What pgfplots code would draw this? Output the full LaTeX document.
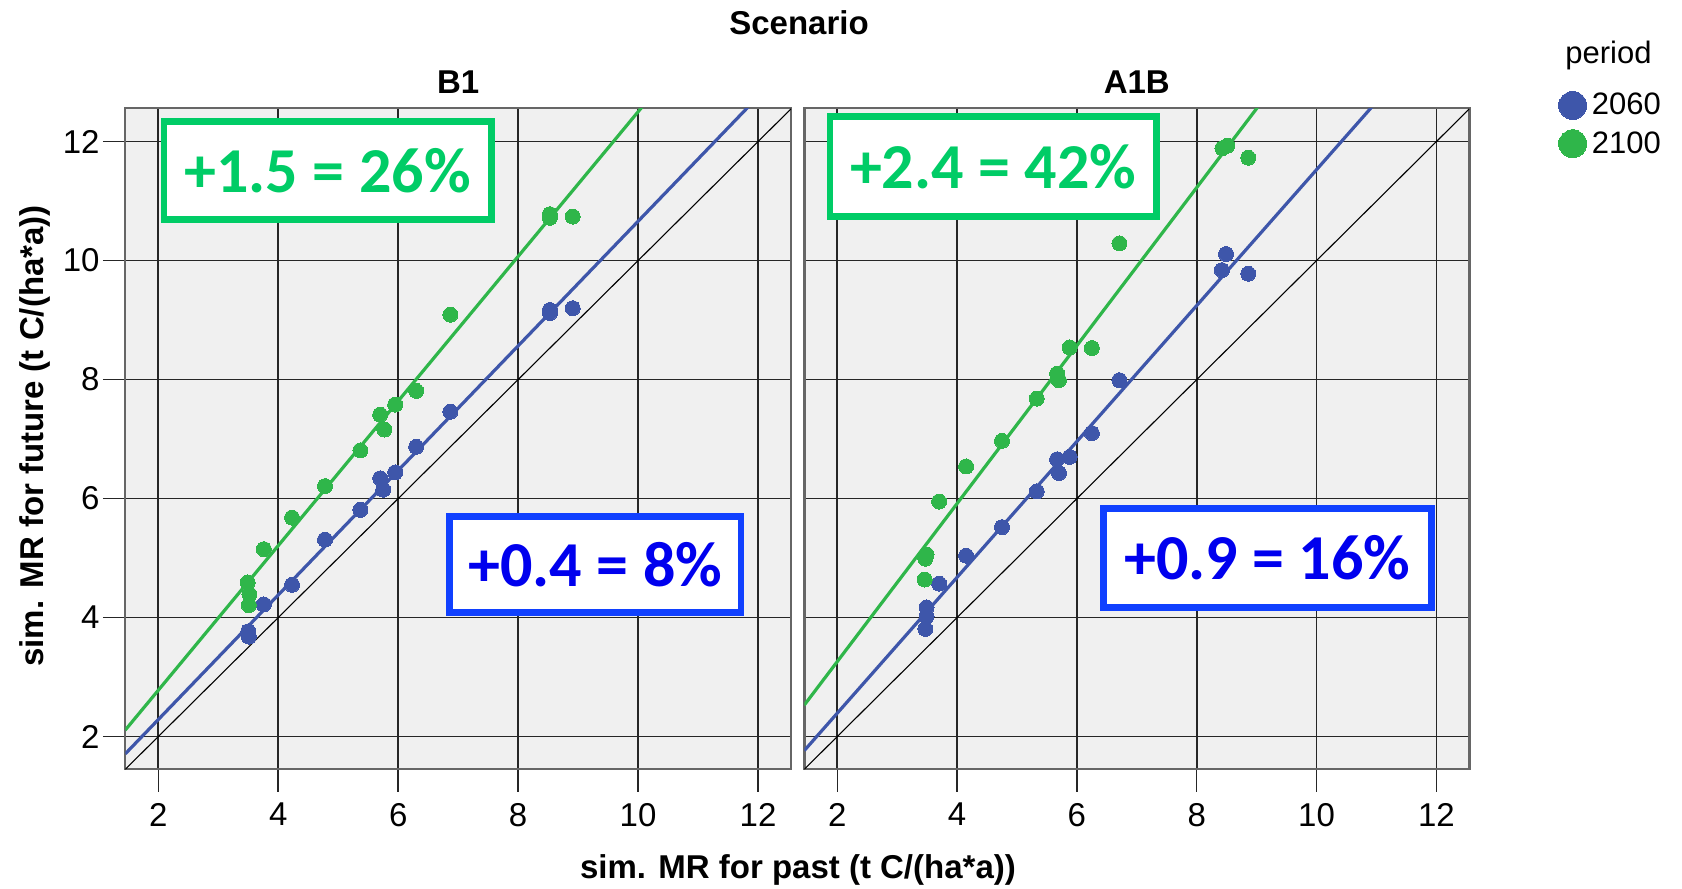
\documentclass[border=0pt]{standalone}
\usepackage{fontspec}
\setmainfont{Liberation Sans}
\newfontfamily\calib{Carlito}
\usepackage{pgfplots}
\usepackage{pgfplotstable}
\pgfplotsset{compat=1.18}
\definecolor{cblue}{RGB}{62,86,170}
\definecolor{cgreen}{RGB}{47,182,74}
\definecolor{tgreen}{RGB}{0,204,102}
\definecolor{tblue}{RGB}{0,0,238}
\definecolor{bblue}{RGB}{16,64,255}
\definecolor{panelbg}{RGB}{240,240,240}

\pgfplotstableread{
x y
3.50 3.77
3.51 3.68
3.50 3.74
3.76 4.22
4.23 4.55
4.78 5.31
5.37 5.81
5.70 6.34
5.75 6.15
5.95 6.44
6.30 6.87
6.87 7.46
8.53 9.17
8.53 9.12
8.91 9.20
}\BoneA
\pgfplotstableread{
x y
3.49 4.59
3.52 4.39
3.51 4.21
3.76 5.15
4.23 5.68
4.78 6.21
5.37 6.81
5.70 7.41
5.77 7.16
5.95 7.58
6.30 7.81
6.87 9.09
8.53 10.78
8.53 10.72
8.91 10.74
}\BoneB
\pgfplotstableread{
x y
3.47 3.81
3.49 4.02
3.49 4.17
3.70 4.57
4.15 5.04
4.75 5.52
5.33 6.12
5.67 6.66
5.70 6.43
5.88 6.70
6.25 7.10
6.71 7.99
8.42 9.84
8.49 10.11
8.86 9.78
}\AoneA
\pgfplotstableread{
x y
3.46 4.64
3.47 4.99
3.49 5.06
3.70 5.95
4.15 6.54
4.75 6.97
5.33 7.68
5.67 8.10
5.70 7.99
5.88 8.54
6.25 8.53
6.71 10.29
8.43 11.89
8.51 11.93
8.86 11.73
}\AoneB

\pgfplotsset{
  panel/.style={
    scale only axis, width=332.85pt, height=330.5pt, anchor=south west,
    xmin=1.45, xmax=12.55, ymin=1.45, ymax=12.56,
    xtick={2,4,...,12}, ytick={2,4,...,12},
    grid=major, major grid style={black!85, line width=0.85pt},
    axis background/.style={fill=panelbg},
    axis line style={black!60, line width=1.2pt},
    tick align=outside, major tick length=11.2pt,
    tick style={black!85, line width=0.75pt},
    xtick pos=bottom, ytick pos=left,
    /pgf/number format/assume math mode=true,
    tick label style={font=\fontsize{16.5}{20}\selectfont},
    xticklabel style={inner sep=5.5pt},
    yticklabel style={inner sep=1.5pt},
  },
  dots/.style={only marks, mark=*, mark size=3.75pt, mark options={fill=#1, draw=#1, line width=0pt}},
  dotlegend/.style={legend image code/.code={\draw[##1] plot coordinates {(0pt,0pt)};}},
}

\begin{document}
\begin{tikzpicture}
\useasboundingbox (0pt,0pt) rectangle (841pt,444.5pt);

\begin{axis}[panel, at={(62.65pt,59.85pt)}]
  \addplot[black, line width=0.55pt] coordinates {(1.45,1.45) (12.55,12.55)};
  \addplot[cblue, line width=1.6pt] coordinates {(1.45,1.71) (12.55,13.33)};
  \addplot[cgreen, line width=1.6pt] coordinates {(1.45,2.11) (12.55,15.60)};
  \addplot[dots=cblue] table[x=x,y=y] {\BoneA};
  \addplot[dots=cgreen] table[x=x,y=y] {\BoneB};
\end{axis}

\begin{axis}[panel, at={(402.15pt,59.85pt)}, width=332.5pt,
    yticklabels={}, ytick style={draw=none},
    legend style={at={(axis description cs:1.1344,1.0255)}, anchor=north west,
      draw=none, fill=none, inner sep=0pt, outer sep=0pt,
      row sep=5.15pt, column sep=2.6pt,
      font=\fontsize{15.5}{18}\selectfont,
      nodes={inner sep=0pt}},
    legend cell align=left]
  \addplot[black, line width=0.55pt, forget plot] coordinates {(1.45,1.45) (12.55,12.55)};
  \addplot[cblue, line width=1.6pt, forget plot] coordinates {(1.45,1.765) (12.55,14.44)};
  \addplot[cgreen, line width=1.6pt, forget plot] coordinates {(1.45,2.53) (12.55,17.27)};
  \addplot[dots=cblue, forget plot] table[x=x,y=y] {\AoneA};
  \addplot[dots=cgreen, forget plot] table[x=x,y=y] {\AoneB};
  \addlegendimage{only marks, mark=*, mark size=7pt, mark options={fill=cblue, draw=cblue, line width=0pt}, dotlegend}
  \addlegendentry{2060}
  \addlegendimage{only marks, mark=*, mark size=7pt, mark options={fill=cgreen, draw=cgreen, line width=0pt}, dotlegend}
  \addlegendentry{2100}
\end{axis}

% annotation boxes
\node[draw=tgreen, line width=3.35pt, fill=white, minimum width=163.55pt, minimum height=49pt,
  text=tgreen, font=\calib\bfseries\fontsize{32}{37}\selectfont] at (163.8pt,359.1pt) {+1.5 = 26\%};
\node[draw=bblue, line width=3.35pt, fill=white, minimum width=145.75pt, minimum height=48.1pt,
  text=tblue, font=\calib\bfseries\fontsize{32}{37}\selectfont] at (297.65pt,162.35pt) {+0.4 = 8\%};
\node[draw=tgreen, line width=3.35pt, fill=white, minimum width=163.1pt, minimum height=49.95pt,
  text=tgreen, font=\calib\bfseries\fontsize{32}{37}\selectfont] at (496.55pt,361.2pt) {+2.4 = 42\%};
\node[draw=bblue, line width=3.35pt, fill=white, minimum width=164pt, minimum height=49.5pt,
  text=tblue, font=\calib\bfseries\fontsize{32}{37}\selectfont] at (633.7pt,165.5pt) {+0.9 = 16\%};

% titles and labels
\node[anchor=base, font=\bfseries\fontsize{16.5}{20}\selectfont] at (399.5pt,427pt) {Scenario};
\node[anchor=base, font=\bfseries\fontsize{16.5}{20}\selectfont] at (229.1pt,397.85pt) {B1};
\node[anchor=base, font=\bfseries\fontsize{16.5}{20}\selectfont] at (568.4pt,397.85pt) {A1B};
\node[rotate=90, anchor=base west, inner sep=0pt, font=\bfseries\fontsize{16.5}{20}\selectfont] at (21.5pt,111pt) {sim. MR for future (t C/(ha*a))};
\node[anchor=base, inner sep=0pt, font=\bfseries\fontsize{16.5}{20}\selectfont] at (399pt,5pt) {sim. MR for past (t C/(ha*a))};
\node[anchor=base west, inner sep=0pt, font=\fontsize{15.5}{18}\selectfont] at (782.5pt,412.85pt) {period};
\end{tikzpicture}
\end{document}
